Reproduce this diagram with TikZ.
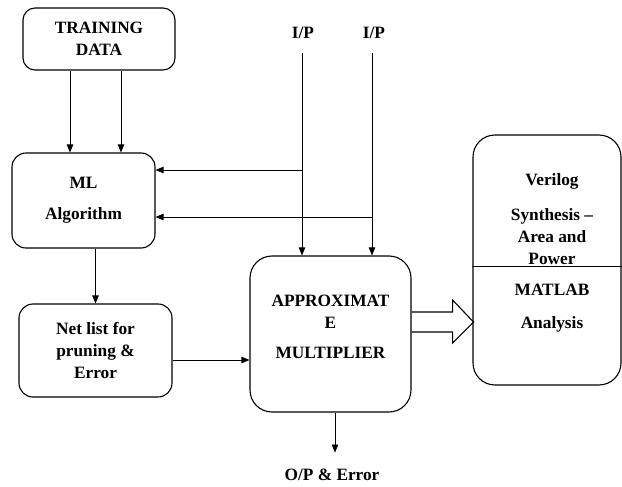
\documentclass[tikz,border=0pt]{standalone}
\usepackage{fontspec}
\setmainfont{Liberation Serif}
\usetikzlibrary{arrows.meta,positioning,calc}
\tikzset{
  blk/.style={draw, line width=1.1pt, rounded corners=12pt, align=center, inner sep=0.75pt, font=\bfseries\fontsize{17.3}{22}\selectfont},
  lbl/.style={align=center, inner sep=0.75pt, font=\bfseries\fontsize{17.3}{22}\selectfont},
  arr/.style={line width=0.7pt, -{Triangle[length=8pt,width=6.5pt]}},
}
\begin{document}
\begin{tikzpicture}[x=1pt,y=1pt,yscale=-1,xscale=1]
\useasboundingbox (0,0) rectangle (622,487);

%Shape: Rounded Rect [id:train]
\node[blk, minimum width=152pt, minimum height=62pt] (train) at (99,39) {TRAINING\\DATA};
%Shape: Rounded Rect [id:ml]
\node[blk, rounded corners=14pt, minimum width=143pt, minimum height=95pt] (ml) at (83.5,200.5) {ML\\[9pt]Algorithm};
%Shape: Rounded Rect [id:net]
\node[blk, rounded corners=14pt, minimum width=153pt, minimum height=93pt] (net) at (95.5,350.5) {Net list for\\pruning \&\\Error};
%Shape: Rounded Rect [id:mult]
\node[blk, rounded corners=22pt, minimum width=161pt, minimum height=156pt] (mult) at (330.5,334) {};
%Shape: Rounded Rect [id:res]
\node[blk, rounded corners=22pt, minimum width=148pt, minimum height=250pt] (res) at (547,260) {};
%Straight Lines [id:divider]
\coordinate (split) at (547,266);
\draw[line width=0.8pt] (split -| res.west) -- (split -| res.east);

% Text Node
\node[lbl] (multtext) at (330.5,327) {APPROXIMAT\\E\\[8pt]MULTIPLIER};
% Text Node
\node[lbl] (syn) at (552,219) {Verilog\\[13pt]Synthesis –\\Area and\\Power};
% Text Node
\node[lbl] (mat) at (552,308.5) {MATLAB\\[11pt]Analysis};
% Text Node
\node[lbl] (ipa) at (303,33) {I/P};
% Text Node
\node[lbl] (ipb) at (374,33) {I/P};

%Straight Lines [id:inputs]
\coordinate (ina) at (302,53);
\coordinate (inb) at (372,53);
\draw[arr] (ina) -- (ina |- mult.north);
\draw[arr] (inb) -- (inb |- mult.north);
\coordinate (tapa) at (302,170);
\coordinate (tapb) at (372,217);
\draw[arr] (tapa) -- (tapa -| ml.east);
\draw[arr] (tapb) -- (tapb -| ml.east);

%Straight Lines [id:training]
\coordinate (tda) at ($(train.south)+(-29,0)$);
\coordinate (tdb) at ($(train.south)+(22,0)$);
\draw[arr] (tda) -- (tda |- ml.north);
\draw[arr] (tdb) -- (tdb |- ml.north);
\draw[arr] (net.north |- ml.south) -- (net.north);
\coordinate (netout) at ($(net.east)+(0,9.5)$);
\draw[arr] (netout) -- (netout -| mult.west);

%Straight Lines [id:output]
\coordinate (outend) at ($(mult.south)+(4.5,40)$);
\draw[arr] (mult.south -| outend) -- (outend);
\node[lbl, below=15pt of outend, xshift=-3pt] (op) {O/P \& Error};

%Shape: Block Arrow [id:fat]
\draw[line width=1.1pt] (mult.east) ++(0,-22) -- ++(41,0) -- ++(0,-12) -- ++(21,22) -- ++(-21,21) -- ++(0,-11) -- ++(-41,0);

\end{tikzpicture}
\end{document}
